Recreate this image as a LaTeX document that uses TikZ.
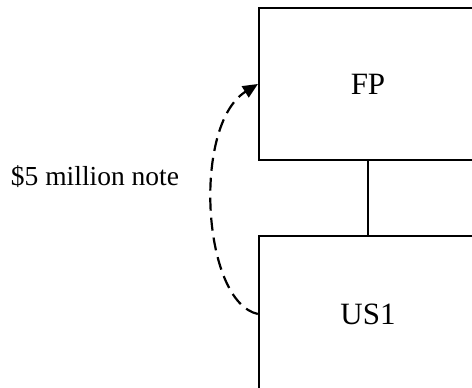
\documentclass[tikz,border=0pt]{standalone}
\usepackage{fontspec}
\setmainfont{Liberation Serif}
\usetikzlibrary{arrows.meta}
\begin{document}
\begin{tikzpicture}[x=1pt,y=-1pt,
  entity/.style={draw,line width=2.2pt,rectangle,minimum width=218pt,minimum height=152pt,inner sep=0pt,font=\fontsize{31}{34}\selectfont},
  link/.style={line width=2.2pt},
  loan/.style={line width=2.2pt,dash pattern=on 13pt off 7pt,-{Triangle[length=15pt,width=13pt]}},
  lbl/.style={font=\fontsize{27.5}{30}\selectfont,inner sep=0pt}]
\useasboundingbox (0,0) rectangle (472,388);
\node[entity] (fp) at (368,84) {FP};
\node[entity,minimum height=156pt] (us) at (368,314) {US1};
\draw[link] (fp.south) -- (us.north);
\draw[loan] (us.west) .. controls (202,302) and (192,125) .. (fp.west);
\node[lbl] (note) at (95,177) {\$5 million note};
\end{tikzpicture}
\end{document}
